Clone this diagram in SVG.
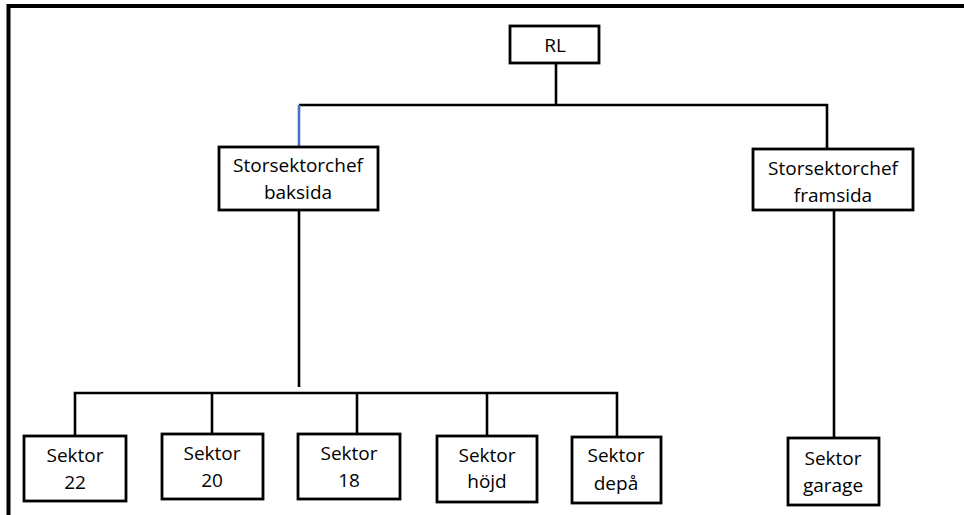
<svg xmlns="http://www.w3.org/2000/svg" width="964" height="515" viewBox="0 0 964 515">
<style>
.box{fill:#fff;stroke:#000;stroke-width:2.8}
.c{fill:none;stroke:#000;stroke-width:2.6}
.blue{fill:none;stroke:#4472c4;stroke-width:2.6}
text{font-family:"Open Sans","Liberation Sans",sans-serif;font-size:19px;fill:#000;text-anchor:middle}
</style>
<rect width="964" height="515" fill="#fff"/>
<path d="M8.5,515 V6 H964" fill="none" stroke="#000" stroke-width="4"/>
<g id="connectors">
<path class="c" d="M556,63 V105"/>
<path class="c" d="M299,105 H827 V149"/>
<path class="blue" d="M299,105 V147"/>
<path class="c" d="M299,210 V387"/>
<path class="c" d="M75,436 V393 H617 V437"/>
<path class="c" d="M212,393 V434"/>
<path class="c" d="M357,393 V434"/>
<path class="c" d="M487,393 V436"/>
<path class="c" d="M834,210 V438"/>
</g>
<g id="rl"><rect class="box" x="510" y="26" width="89" height="37"/><text x="555" y="52">RL</text></g>
<g id="baksida"><rect class="box" x="219" y="147" width="159" height="63"/><text x="298" y="172">Storsektorchef</text><text x="298" y="199">baksida</text></g>
<g id="framsida"><rect class="box" x="753" y="149" width="160" height="61"/><text x="833" y="175">Storsektorchef</text><text x="833" y="202">framsida</text></g>
<g id="s22"><rect class="box" x="24" y="436" width="102" height="65"/><text x="75" y="462">Sektor</text><text x="75" y="489">22</text></g>
<g id="s20"><rect class="box" x="162" y="434" width="101" height="65"/><text x="212" y="460">Sektor</text><text x="212" y="487">20</text></g>
<g id="s18"><rect class="box" x="298" y="434" width="102" height="65"/><text x="349" y="460">Sektor</text><text x="349" y="487">18</text></g>
<g id="shojd"><rect class="box" x="437" y="436" width="100" height="66"/><text x="487" y="462">Sektor</text><text x="487" y="488">höjd</text></g>
<g id="sdepa"><rect class="box" x="572" y="437" width="89" height="66"/><text x="616" y="462">Sektor</text><text x="616" y="490">depå</text></g>
<g id="sgarage"><rect class="box" x="788" y="438" width="91" height="67"/><text x="833" y="465">Sektor</text><text x="833" y="492">garage</text></g>
</svg>
